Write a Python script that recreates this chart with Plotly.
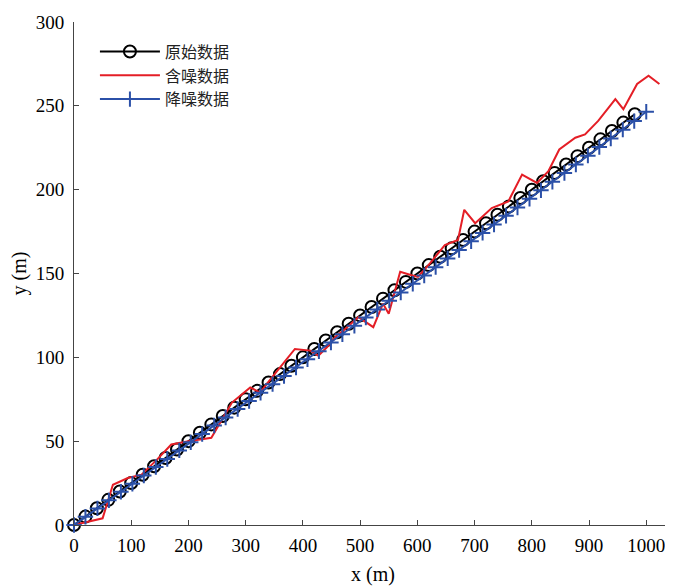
import plotly.graph_objects as go

# Original data
orig_x = [0, 20, 40, 60, 80, 100, 120, 140, 160, 180, 200, 220, 240, 260, 280, 300, 320, 340, 360, 380,
          400, 420, 440, 460, 480, 500, 520, 540, 560, 580, 600, 620, 640, 660, 680, 700, 720, 740, 760, 780,
          800, 820, 840, 860, 880, 900, 920, 940, 960, 980]
orig_y = [0, 5, 10, 15, 20, 25, 30, 35, 40, 45, 50, 55, 60, 65, 70, 75, 80, 85, 90, 95,
          100, 105, 110, 115, 120, 125, 130, 135, 140, 145, 150, 155, 160, 165, 170, 175, 180, 185, 190, 195,
          200, 205, 210, 215, 220, 225, 230, 235, 240, 245]

# Noisy data
noisy_x = [0, 50, 68, 94, 118, 145, 170, 200, 240, 276, 308, 325, 346, 362, 386, 413, 427, 442, 459, 471,
           497, 523, 540, 550, 570, 590, 601, 622, 648, 671, 682, 701, 730, 759, 783, 809, 829, 848, 876, 893,
           916, 946, 960, 984, 1004, 1023]
noisy_y = [0, 4, 24, 28, 30, 39, 48, 50, 52, 73, 82, 79, 88, 95, 105, 104, 101, 106, 113, 116,
           124, 118, 132, 126, 151, 149, 148, 156, 167, 170, 188, 180, 189, 193, 209, 204, 211, 224, 231, 233,
           241, 254, 248, 263, 268, 263]

# Denoised data
den_x = [0, 20, 41, 61, 82, 102, 122, 143, 163, 184, 204, 224, 245, 265, 286, 306, 326, 347, 367, 388,
         408, 428, 449, 469, 490, 510, 530, 551, 571, 592, 612, 632, 653, 673, 694, 714, 734, 755, 775, 796,
         816, 836, 857, 877, 898, 918, 938, 959, 979, 1000]
den_y = [0, 4.9, 9.9, 14.7, 19.8, 24.6, 29.5, 34.6, 39.4, 44.5, 49.3, 54.2, 59.3, 64.1, 69.2, 74.0, 78.9, 84.0, 88.8, 93.9,
         98.8, 103.6, 108.8, 113.7, 118.8, 123.7, 128.6, 133.8, 138.7, 143.9, 148.8, 153.8, 159.0, 164.0, 169.2, 174.2,
         179.2, 184.4, 189.4, 194.6, 199.6, 204.7, 209.9, 215.0, 220.3, 225.4, 230.5, 235.8, 240.9, 246.5]

x_ticks = [0, 100, 200, 300, 400, 500, 600, 700, 800, 900, 1000]
y_ticks = [0, 50, 100, 150, 200, 250, 300]

fig = go.Figure()
fig.add_trace(go.Scatter(
    x=orig_x, y=orig_y, mode="lines+markers", name="原始数据",
    line=dict(color="black", width=2),
    marker=dict(symbol="circle-open", size=12, color="black", line=dict(width=2)),
    cliponaxis=False))
fig.add_trace(go.Scatter(
    x=noisy_x, y=noisy_y, mode="lines", name="含噪数据",
    line=dict(color="#E41E26", width=2), cliponaxis=False))
fig.add_trace(go.Scatter(
    x=den_x, y=den_y, mode="lines+markers", name="降噪数据",
    line=dict(color="#2B50A8", width=2),
    marker=dict(symbol="cross-thin", size=11, color="#2B50A8", line=dict(width=2, color="#2B50A8")),
    cliponaxis=False))

font_family = "Liberation Serif, Times New Roman, serif"
# page body has an 8px margin, so the figure is offset by 8px
fig.update_layout(
    width=665, height=578,
    margin=dict(l=66, r=1, t=14, b=61),
    plot_bgcolor="white", paper_bgcolor="white",
    font=dict(family=font_family, size=19, color="black"),
    showlegend=True,
    legend=dict(x=0.035, y=0.975, xanchor="left", yanchor="top",
                bgcolor="rgba(255,255,255,0)", borderwidth=0,
                font=dict(family="Noto Sans CJK SC", size=16, color="#222"),
                tracegroupgap=0, itemwidth=60),
    xaxis=dict(range=[0, 1045], tickvals=x_ticks, ticktext=[str(v) for v in x_ticks],
               showgrid=False, zeroline=False, showline=True, linecolor="#444", linewidth=1,
               ticks="inside", ticklen=5, tickcolor="#444", automargin=False,
               ticklabelstandoff=3,
               title=dict(text="x (m)", font=dict(family=font_family, size=20), standoff=14)),
    yaxis=dict(range=[0, 300], tickvals=y_ticks, ticktext=[str(v) for v in y_ticks],
               showgrid=False, zeroline=False, showline=True, linecolor="#444", linewidth=1,
               mirror="ticks", automargin=False, ticklabelstandoff=5,
               ticks="inside", ticklen=5, tickcolor="#444",
               title=dict(text="y (m)", font=dict(family=font_family, size=20), standoff=8)),
)

fig.write_html("out.html")
